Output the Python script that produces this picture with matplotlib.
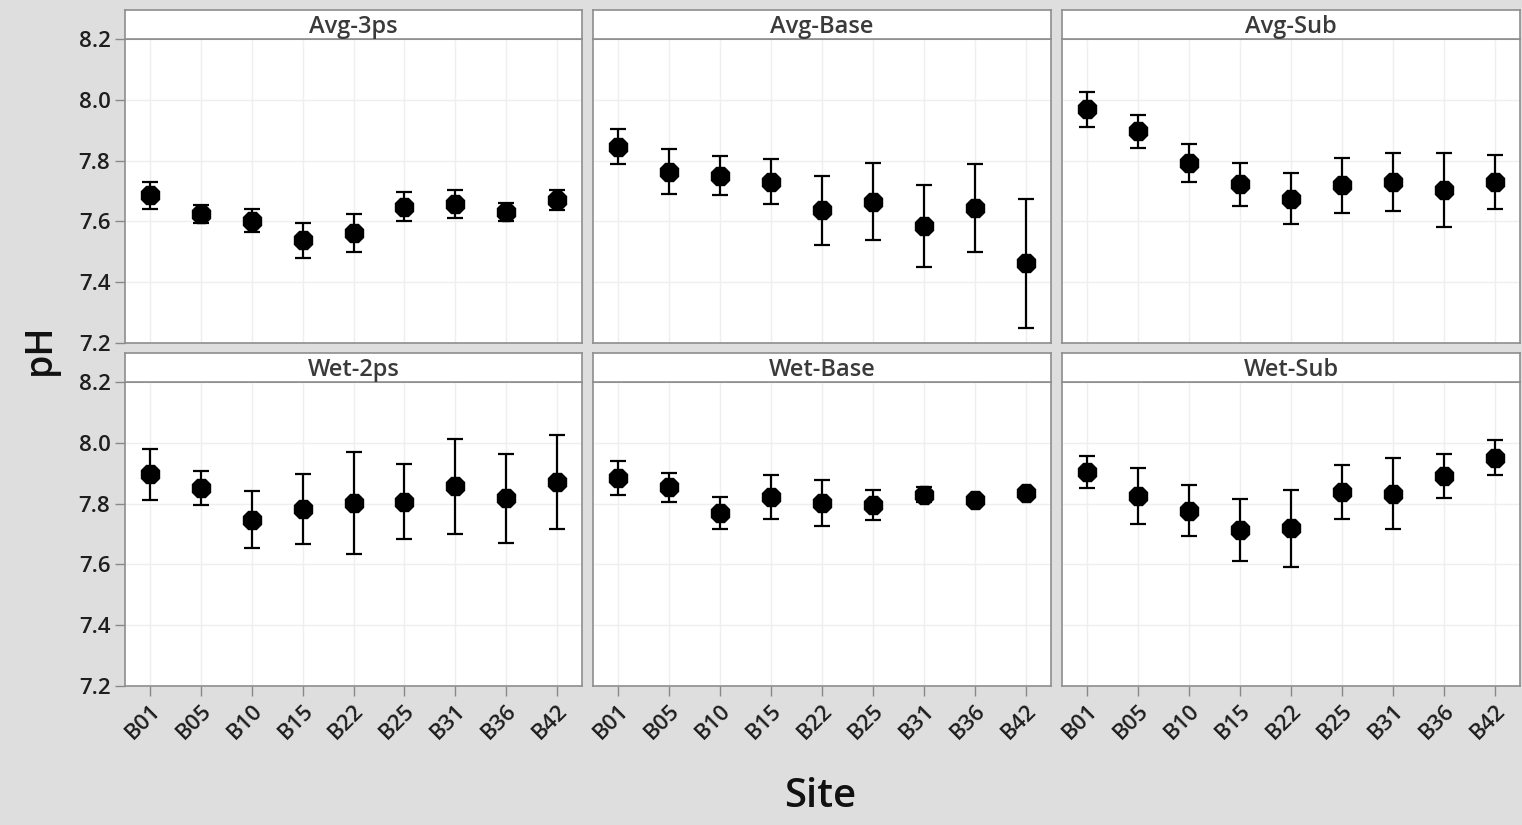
import numpy as np
import matplotlib
matplotlib.use('Agg')
import matplotlib.pyplot as plt

plt.rcParams['font.family'] = ['Open Sans', 'DejaVu Sans']

sites = ['B01', 'B05', 'B10', 'B15', 'B22', 'B25', 'B31', 'B36', 'B42']
panels = ['Avg-3ps', 'Avg-Base', 'Avg-Sub', 'Wet-2ps', 'Wet-Base', 'Wet-Sub']

# mean pH per site and half-width of the interval
avg_3ps_mean = [7.686, 7.625, 7.602, 7.538, 7.562, 7.648, 7.657, 7.632, 7.669]
avg_3ps_err = [0.045, 0.030, 0.038, 0.058, 0.062, 0.048, 0.045, 0.030, 0.033]
avg_base_mean = [7.846, 7.764, 7.750, 7.731, 7.636, 7.665, 7.585, 7.644, 7.462]
avg_base_err = [0.058, 0.073, 0.064, 0.073, 0.112, 0.126, 0.135, 0.144, 0.213]
avg_sub_mean = [7.969, 7.896, 7.793, 7.722, 7.675, 7.719, 7.730, 7.703, 7.730]
avg_sub_err = [0.058, 0.054, 0.062, 0.070, 0.083, 0.090, 0.095, 0.123, 0.088]
wet_2ps_mean = [7.896, 7.850, 7.747, 7.781, 7.801, 7.806, 7.857, 7.817, 7.870]
wet_2ps_err = [0.085, 0.056, 0.093, 0.115, 0.168, 0.123, 0.157, 0.145, 0.155]
wet_base_mean = [7.884, 7.854, 7.770, 7.822, 7.803, 7.795, 7.829, 7.812, 7.834]
wet_base_err = [0.056, 0.048, 0.053, 0.073, 0.076, 0.050, 0.025, 0.012, 0.015]
wet_sub_mean = [7.904, 7.825, 7.777, 7.713, 7.719, 7.838, 7.833, 7.890, 7.951]
wet_sub_err = [0.053, 0.093, 0.084, 0.103, 0.126, 0.090, 0.118, 0.073, 0.057]

means = [avg_3ps_mean, avg_base_mean, avg_sub_mean, wet_2ps_mean, wet_base_mean, wet_sub_mean]
errs = [avg_3ps_err, avg_base_err, avg_sub_err, wet_2ps_err, wet_base_err, wet_sub_err]

W, H = 1522, 825
fig = plt.figure(figsize=(W / 100, H / 100), dpi=100)
fig.patch.set_facecolor('#dedede')

col_x = [(125, 582), (593, 1051), (1062, 1520)]
row_y = [(10, 39, 343), (353, 382, 686)]  # strip top, plot top, plot bottom
border = '#8e8e8e'
x = np.arange(len(sites))

for i, name in enumerate(panels):
    r, c = divmod(i, 3)
    x0, x1 = col_x[c]
    st, pt, pb = row_y[r]
    ax = fig.add_axes([x0 / W, 1 - pb / H, (x1 - x0) / W, (pb - pt) / H])
    sx = fig.add_axes([x0 / W, 1 - pt / H, (x1 - x0) / W, (pt - st) / H])

    ax.errorbar(x, means[i], yerr=errs[i], fmt='8', color='black', ms=14,
                elinewidth=1.6, capsize=5.5, capthick=1.6, zorder=3)
    ax.set_xlim(-0.5, 8.5)
    ax.set_ylim(7.2, 8.2)
    ax.set_yticks([7.2, 7.4, 7.6, 7.8, 8.0, 8.2])
    ax.set_xticks(x)
    ax.grid(True, color='#efefef', lw=1)
    ax.set_axisbelow(True)
    for s in ax.spines.values():
        s.set_color(border)
        s.set_linewidth(1.2)
    ax.tick_params(color='#888888', length=7, width=1, labelsize=16,
                   labelcolor='#1e1e1e')
    if c == 0:
        ax.set_yticklabels(['7.2', '7.4', '7.6', '7.8', '8.0', '8.2'],
                           fontweight='semibold')
    else:
        ax.tick_params(axis='y', left=False, labelleft=False)
    if r == 1:
        ax.set_xticklabels(sites, rotation=45, ha='right', rotation_mode='anchor',
                           fontweight='semibold')
    else:
        ax.tick_params(axis='x', bottom=False, labelbottom=False)

    sx.set_xticks([])
    sx.set_yticks([])
    sx.set_facecolor('white')
    for s in sx.spines.values():
        s.set_color(border)
        s.set_linewidth(1.2)
    sx.text(0.5, 0.40, name, transform=sx.transAxes, ha='center', va='center',
            fontsize=17, fontweight='semibold', color='#3a3a3a')

fig.text(40 / W, 1 - 349 / H, 'pH', rotation=90, ha='center', va='center',
         fontsize=27, fontweight='semibold', color='#111111')
fig.text(820 / W, 1 - 797 / H, 'Site', ha='center', va='center',
         fontsize=29, fontweight='semibold', color='#111111')

fig.savefig('out.png', dpi=100, facecolor=fig.get_facecolor())
